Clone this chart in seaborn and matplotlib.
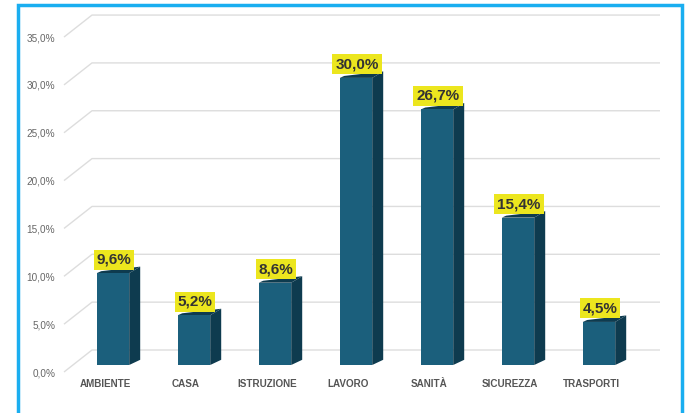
import matplotlib
matplotlib.use("Agg")
import matplotlib.pyplot as plt
import matplotlib.transforms as mtransforms
from matplotlib.patches import Polygon
import seaborn as sns
import pandas as pd

categories = ["AMBIENTE", "CASA", "ISTRUZIONE", "LAVORO", "SANITÀ", "SICUREZZA", "TRASPORTI"]
values = [9.6, 5.2, 8.6, 30.0, 26.7, 15.4, 4.5]
y_ticks = [0, 5, 10, 15, 20, 25, 30, 35]
y_tick_labels = ["0,0%", "5,0%", "10,0%", "15,0%", "20,0%", "25,0%", "30,0%", "35,0%"]

FRONT = "#1b5f7c"
SIDE = "#0e3b4f"
YELLOW = "#ece61e"
GRID = "#dddddd"
BORDER = "#1aaef0"

sns.set_theme(style="white")
plt.rcParams["font.family"] = ["Liberation Sans", "DejaVu Sans"]

W, H = 693, 413
fig = plt.figure(figsize=(W / 100, H / 100), dpi=100)
fig.patch.set_facecolor("white")

# axes in pixel coordinates
ax_l, ax_r, ax_t, ax_b = 60, 665, 10, 372
ax = fig.add_axes([ax_l / W, (H - ax_b) / H, (ax_r - ax_l) / W, (ax_b - ax_t) / H])
ax.set_facecolor("none")

px_per_cat = 81.0
px_per_pct = 9.57
x0_px = 113
y0_px = 365
xmin = -(x0_px - ax_l) / px_per_cat
xmax = xmin + (ax_r - ax_l) / px_per_cat
ymin = -(ax_b - y0_px) / px_per_pct
ymax = (y0_px - ax_t) / px_per_pct

df = pd.DataFrame({"categoria": categories, "valore": values})
sns.barplot(data=df, x="categoria", y="valore", color=FRONT, saturation=1,
            width=0.4, ax=ax, zorder=3, edgecolor="none")

ax.set_xlim(xmin, xmax)
ax.set_ylim(ymin, ymax)

def xpx(p):
    return xmin + (p - ax_l) / px_per_cat

# back-wall gridlines with perspective stubs
for v in y_ticks:
    yl = v - 7 / px_per_pct
    yb = v + 15 / px_per_pct
    ax.plot([xpx(64), xpx(92), xpx(660)], [yl, yb, yb], color=GRID, lw=1.0,
            zorder=1, clip_on=False, solid_capstyle="butt")

# 3D side faces
dx = 11 / px_per_cat
dy = 6.5 / px_per_pct
for p in ax.patches[:len(values)]:
    x = p.get_x()
    w = p.get_width()
    h = p.get_height()
    side = Polygon([(x + w, 0), (x + w + dx, dy * 0.8), (x + w + dx, h + dy), (x + w, h)],
                   closed=True, facecolor=SIDE, edgecolor="none", zorder=2.9)
    ax.add_patch(side)
    top = Polygon([(x, h), (x + w, h), (x + w + dx, h + dy), (x + dx * 0.4, h + dy * 0.3)],
                  closed=True, facecolor=SIDE, edgecolor="none", zorder=2.8)
    ax.add_patch(top)
    lbl = f"{h:.1f}".replace(".", ",") + "%"
    ax.text(x + w / 2 + 1 / px_per_cat, h + 13.5 / px_per_pct, lbl,
            ha="center", va="center", fontsize=11, fontweight="bold", color="#333333",
            zorder=5,
            bbox=dict(boxstyle="square,pad=0.2", facecolor=YELLOW, edgecolor="none"))

ax.set_yticks(y_ticks)
ax.set_yticklabels(y_tick_labels)
ax.tick_params(axis="y", length=0, pad=3.4, labelsize=7.2, labelcolor="#666666")
ax.tick_params(axis="x", length=0, pad=5.0, labelsize=7.1, labelcolor="#555555")
for t in ax.get_xticklabels():
    t.set_fontweight("bold")
    t.set_transform(t.get_transform() + mtransforms.ScaledTranslation(-0.08, 0, fig.dpi_scale_trans))
for t in ax.get_yticklabels():
    t.set_transform(t.get_transform() + mtransforms.ScaledTranslation(0, -0.07, fig.dpi_scale_trans))

ax.set_xlabel("")
ax.set_ylabel("")
for s in ax.spines.values():
    s.set_visible(False)

# light blue frame (no bottom edge)
frame_ax = fig.add_axes([0, 0, 1, 1], zorder=-1)
frame_ax.set_xlim(0, W)
frame_ax.set_ylim(H, 0)
frame_ax.axis("off")
frame_ax.plot([18, 18, 681.5, 681.5], [H + 2, 5, 5, H + 2], color=BORDER, lw=2.5,
              solid_joinstyle="miter")

fig.savefig("out.png", dpi=100, facecolor="white")
